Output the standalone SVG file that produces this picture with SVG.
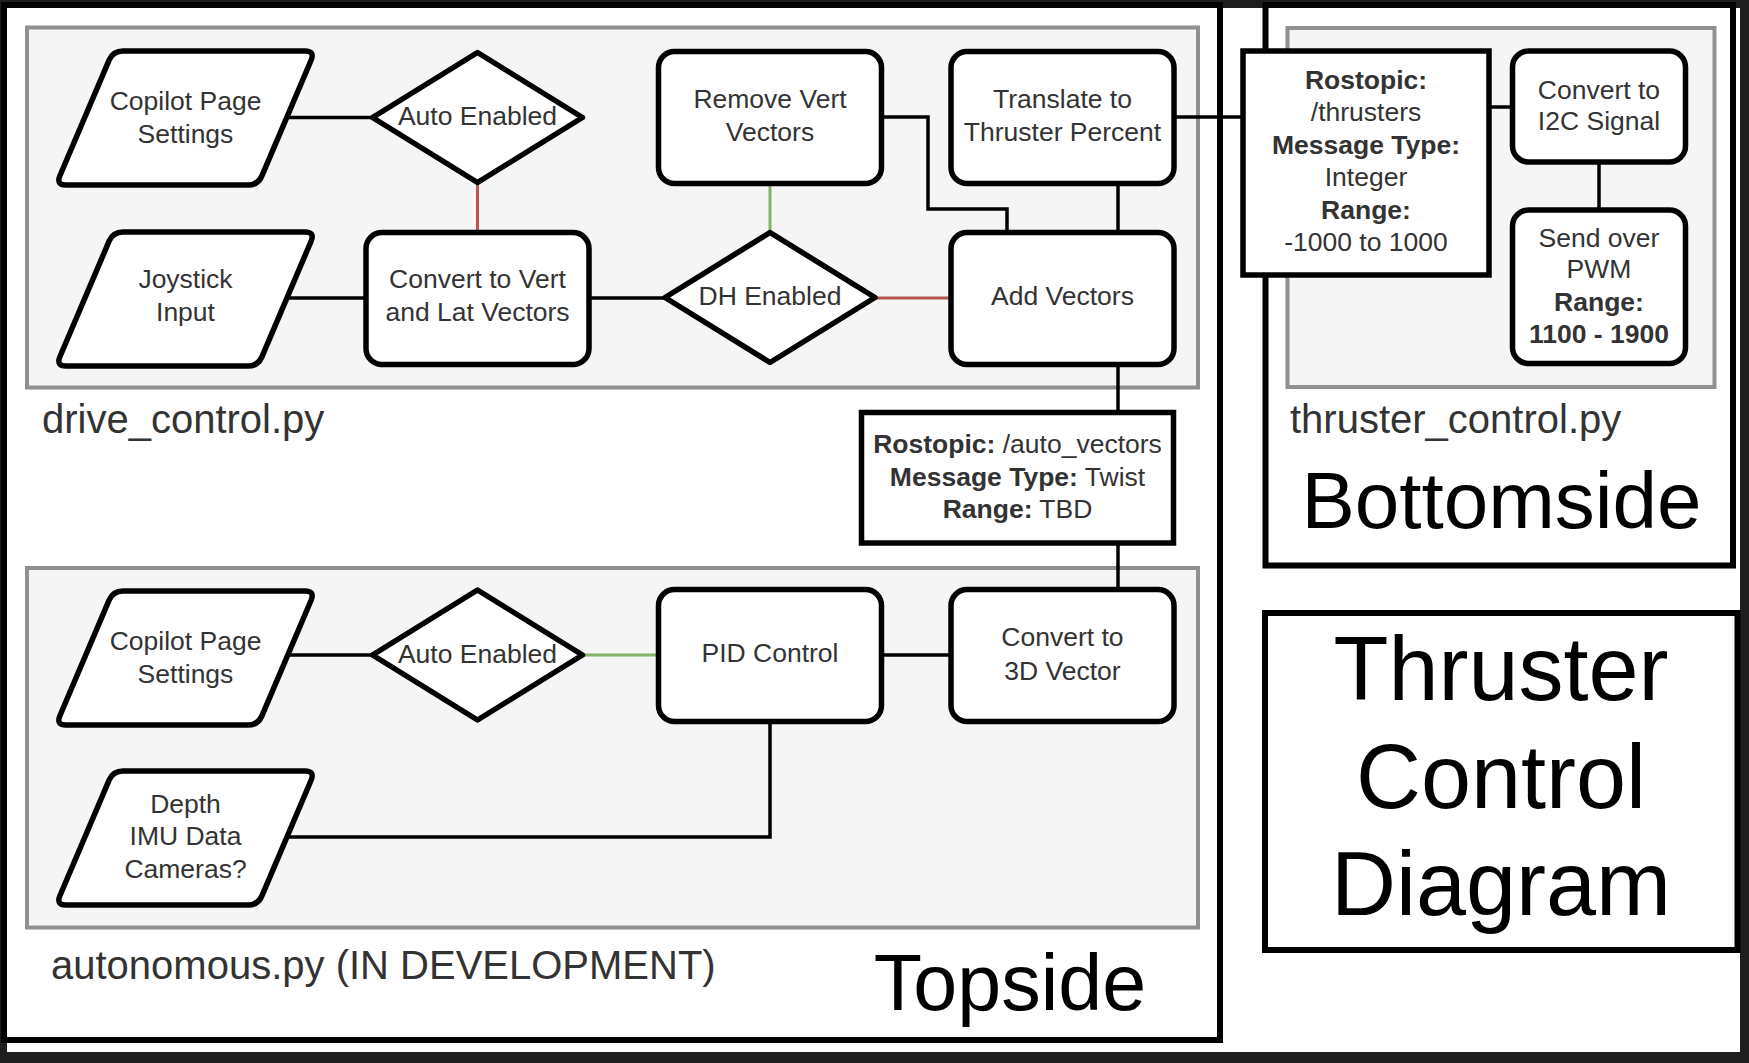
<svg xmlns="http://www.w3.org/2000/svg" width="1749" height="1063" viewBox="0 0 1749 1063">
<defs>
<style>
.node{fill:#fff;stroke:#000;stroke-width:5.5;stroke-linejoin:round}
.grp{fill:#f5f5f5;stroke:#909090;stroke-width:4}
.frame{fill:#fff;stroke:#000;stroke-width:6}
.conn{fill:none;stroke:#000;stroke-width:3.5}
.red{fill:none;stroke:#b85450;stroke-width:3}
.green{fill:none;stroke:#82b366;stroke-width:3}
text{font-family:"Liberation Sans",Arial,Helvetica,sans-serif}
.lbl{font-size:26.5px;fill:#333;text-anchor:middle}
.glbl{font-size:40px;fill:#333}
.title{fill:#000;text-anchor:middle}
.b{font-weight:bold}
</style>
</defs>
<rect x="0" y="0" width="1749" height="1063" fill="#1e1e1e"/>
<rect x="7" y="8" width="1733" height="1044" fill="#fff"/>

<g id="topside-frame">
<rect class="frame" x="4" y="5" width="1216" height="1035"/>
<text class="title" x="1010" y="1010" font-size="79">Topside</text>
</g>
<g id="bottomside-frame">
<rect class="frame" x="1265.5" y="5" width="467.5" height="560.5"/>
<text class="title" x="1501.5" y="528" font-size="80">Bottomside</text>
</g>
<g id="title-box">
<rect class="frame" x="1265" y="613" width="472.5" height="337"/>
<text class="title" font-size="90"><tspan x="1501" y="700">Thruster</tspan><tspan x="1501" y="808">Control</tspan><tspan x="1501" y="915">Diagram</tspan></text>
</g>

<g id="drive-control-group">
<rect class="grp" x="27" y="27.5" width="1171" height="360"/>
<text class="glbl" x="42" y="433">drive_control.py</text>
</g>
<g id="autonomous-group">
<rect class="grp" x="27" y="568" width="1171" height="359.5"/>
<text class="glbl" x="51" y="979">autonomous.py (IN DEVELOPMENT)</text>
</g>
<g id="thruster-control-group">
<rect class="grp" x="1287.5" y="28" width="427" height="359"/>
<text class="glbl" x="1290" y="433">thruster_control.py</text>
</g>

<g id="connectors">
<path class="conn" d="M287,117.5 H372.5"/>
<path class="red" d="M477.5,182.5 V232.5"/>
<path class="conn" d="M287,298 H366"/>
<path class="conn" d="M589,298 H665"/>
<path class="green" d="M770,183.5 V232.5"/>
<path class="red" d="M875,298 H951"/>
<path class="conn" d="M881.5,117 H928 V209 H1007 V232.5"/>
<path class="conn" d="M1118,183.5 V232.5"/>
<path class="conn" d="M1174.5,117 H1243"/>
<path class="conn" d="M1118,364.5 V412.5"/>
<path class="conn" d="M1118,543 V589.5"/>
<path class="conn" d="M1489,107 H1512.5"/>
<path class="conn" d="M1599,162 V210"/>
<path class="conn" d="M287,655 H372.5"/>
<path class="green" d="M582.5,655 H658.5"/>
<path class="conn" d="M881.5,655 H951"/>
<path class="conn" d="M770,721.5 V837 H287"/>
</g>

<g id="copilot-settings-1">
<path class="node" d="M123,51 L305,51 Q315,51 311.1,60.2 L261.9,175.8 Q258,185 248,185 L66,185 Q56,185 59.9,175.8 L109.1,60.2 Q113,51 123,51 Z"/>
<text class="lbl"><tspan x="185.5" y="109.5">Copilot Page</tspan><tspan x="185.5" y="142.5">Settings</tspan></text>
</g>
<g id="auto-enabled-1">
<path class="node" d="M477.5,52.5 L582.5,117.5 L477.5,182.5 L372.5,117.5 Z"/>
<text class="lbl" x="477.5" y="124.5">Auto Enabled</text>
</g>
<g id="joystick-input">
<path class="node" transform="translate(0,181)" d="M123,51 L305,51 Q315,51 311.1,60.2 L261.9,175.8 Q258,185 248,185 L66,185 Q56,185 59.9,175.8 L109.1,60.2 Q113,51 123,51 Z"/>
<text class="lbl"><tspan x="185.5" y="287.5">Joystick</tspan><tspan x="185.5" y="320.5">Input</tspan></text>
</g>
<g id="convert-vert-lat">
<rect class="node" x="366" y="232.5" width="223" height="132" rx="16"/>
<text class="lbl"><tspan x="477.5" y="287.5">Convert to Vert</tspan><tspan x="477.5" y="320.5">and Lat Vectors</tspan></text>
</g>
<g id="remove-vert">
<rect class="node" x="658.5" y="51.5" width="223" height="132" rx="16"/>
<text class="lbl"><tspan x="770" y="107.5">Remove Vert</tspan><tspan x="770" y="140.5">Vectors</tspan></text>
</g>
<g id="dh-enabled">
<path class="node" d="M770,232.5 L875,297.5 L770,362.5 L665,297.5 Z"/>
<text class="lbl" x="770" y="304.5">DH Enabled</text>
</g>
<g id="translate-thruster">
<rect class="node" x="951" y="51.5" width="223" height="132" rx="16"/>
<text class="lbl"><tspan x="1062.5" y="107.5">Translate to</tspan><tspan x="1062.5" y="140.5">Thruster Percent</tspan></text>
</g>
<g id="add-vectors">
<rect class="node" x="951" y="232.5" width="223" height="132" rx="16"/>
<text class="lbl" x="1062.5" y="304.5">Add Vectors</text>
</g>
<g id="auto-vectors-topic">
<rect class="node" style="stroke-linejoin:miter" x="861.5" y="412.5" width="312" height="130.5"/>
<text class="lbl"><tspan x="1017.5" y="453"><tspan class="b">Rostopic:</tspan> /auto_vectors</tspan><tspan x="1017.5" y="485.5"><tspan class="b">Message Type:</tspan> Twist</tspan><tspan x="1017.5" y="518"><tspan class="b">Range:</tspan> TBD</tspan></text>
</g>
<g id="copilot-settings-2">
<path class="node" transform="translate(0,540)" d="M123,51 L305,51 Q315,51 311.1,60.2 L261.9,175.8 Q258,185 248,185 L66,185 Q56,185 59.9,175.8 L109.1,60.2 Q113,51 123,51 Z"/>
<text class="lbl"><tspan x="185.5" y="649.5">Copilot Page</tspan><tspan x="185.5" y="682.5">Settings</tspan></text>
</g>
<g id="auto-enabled-2">
<path class="node" d="M477.5,590 L582.5,655 L477.5,720 L372.5,655 Z"/>
<text class="lbl" x="477.5" y="662.5">Auto Enabled</text>
</g>
<g id="depth-imu">
<path class="node" transform="translate(0,720)" d="M123,51 L305,51 Q315,51 311.1,60.2 L261.9,175.8 Q258,185 248,185 L66,185 Q56,185 59.9,175.8 L109.1,60.2 Q113,51 123,51 Z"/>
<text class="lbl"><tspan x="185.5" y="812.5">Depth</tspan><tspan x="185.5" y="844.5">IMU Data</tspan><tspan x="185.5" y="877.5">Cameras?</tspan></text>
</g>
<g id="pid-control">
<rect class="node" x="658.5" y="589.5" width="223" height="132" rx="16"/>
<text class="lbl" x="770" y="661.5">PID Control</text>
</g>
<g id="convert-3d">
<rect class="node" x="951" y="589.5" width="223" height="132" rx="16"/>
<text class="lbl"><tspan x="1062.5" y="645.5">Convert to</tspan><tspan x="1062.5" y="679.5">3D Vector</tspan></text>
</g>
<g id="thrusters-topic">
<rect class="node" style="stroke-linejoin:miter" x="1243" y="51" width="246" height="224"/>
<text class="lbl"><tspan class="b" x="1366" y="88.5">Rostopic:</tspan><tspan x="1366" y="121">/thrusters</tspan><tspan class="b" x="1366" y="153.5">Message Type:</tspan><tspan x="1366" y="186">Integer</tspan><tspan class="b" x="1366" y="218.5">Range:</tspan><tspan x="1366" y="251">-1000 to 1000</tspan></text>
</g>
<g id="convert-i2c">
<rect class="node" x="1512.5" y="51" width="173" height="111" rx="16"/>
<text class="lbl"><tspan x="1599" y="98.5">Convert to</tspan><tspan x="1599" y="130">I2C Signal</tspan></text>
</g>
<g id="send-pwm">
<rect class="node" x="1512.5" y="210" width="173" height="153.5" rx="16"/>
<text class="lbl"><tspan x="1599" y="246.5">Send over</tspan><tspan x="1599" y="278">PWM</tspan><tspan class="b" x="1599" y="311">Range:</tspan><tspan class="b" x="1599" y="343">1100 - 1900</tspan></text>
</g>
</svg>
